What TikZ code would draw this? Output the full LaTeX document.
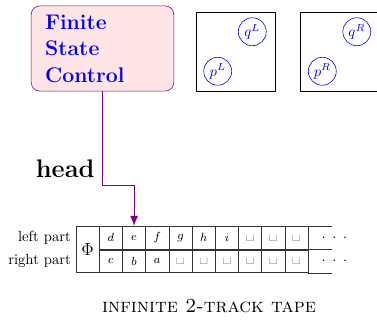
\documentclass[tikz,border=0pt]{standalone}
\usepackage{amsmath}
\usepackage{amssymb}
\usetikzlibrary{arrows.meta, positioning, calc}

\newcommand{\blk}{{\large\textvisiblespace}}
\newcommand{\dotsrow}{$\cdot$\hspace{4.5pt}$\cdot$\hspace{4.5pt}$\cdot$}

\begin{document}
\begin{tikzpicture}[
  x=0.68pt, y=-0.68pt,
  >=Latex,
  ctrl/.style     = {draw=violet, fill=red!10, rounded corners=6pt, text=blue,
                     font=\Large\bfseries, align=left, text width=78pt,
                     minimum width=97pt, minimum height=58pt},
  panel/.style    = {draw, minimum size=53.7pt, inner sep=0pt},
  stnode/.style   = {draw=blue, text=blue, circle, minimum size=19pt, inner sep=0pt},
  cell/.style     = {draw=black!80, minimum width=15.8pt, minimum height=15.6pt,
                     inner sep=0pt, font=\footnotesize},
  part/.style     = {anchor=east, inner sep=3pt},
  headarrow/.style= {draw=violet, thick, -{Latex[length=6.8pt,width=5.4pt]}},
  headlbl/.style  = {left, font=\LARGE\bfseries, text=black, inner sep=5pt},
]
  \clip (0,0) rectangle (377,320);

  \node[ctrl]                      (fsc)  at (102.5,48.5) {Finite\\State\\Control};
  \node[panel]                     (boxL) at (235.5,51.5) {};
  \node[panel, right=17pt of boxL] (boxR) {};

  \node[stnode] (qL) at ($(boxL.north east)+(-23,20)$) {$q^L$};
  \node[stnode] (pL) at ($(boxL.south west)+(22,-20)$) {$p^L$};
  \node[stnode] (qR) at ($(boxR.north east)+(-23,20)$) {$q^R$};
  \node[stnode] (pR) at ($(boxR.south west)+(22,-20)$) {$p^R$};

  % the tape
  \node[cell, minimum height=31.2pt, font=\large] (phi) at (87.5,249) {$\Phi$};
  \foreach \s [count=\i] in {$d$,$e$,$f$,$g$,$h$,$i$,\blk,\blk,\blk}
    \node[cell, anchor=north west] (t\i) at ({99+23.2*(\i-1)},226) {\s};
  \foreach \s [count=\i] in {$c$,$b$,$a$,\blk,\blk,\blk,\blk,\blk,\blk}
    \node[cell, anchor=north west] (b\i) at (t\i.south west) {\s};

  \draw[black!80] (t9.north east) -- ++(24,0);
  \draw[black!80] (t9.south east) -- ++(24,0);
  \draw[black!80] (b9.south east) -- ++(24,0);
  \node (dotsT) at ($(t9.east)+(26,0)$) {\dotsrow};
  \node (dotsB) at ($(b9.east)+(26,0)$) {\dotsrow};

  \node[part] (lpart) at (phi.west |- t1.center) {left part};
  \node[part] (rpart) at (phi.west |- b1.center) {right part};

  \node[font=\fontsize{13.5pt}{16pt}\selectfont] (cap) at (209,306)
    {\textsc{infinite 2-track tape}};

  \coordinate (hbend) at ($(fsc.south)+(0,94)$);
  \draw[headarrow] (fsc.south) -- node[headlbl, pos=0.82] (hlbl) {head} (hbend) -| (t2.north);
\end{tikzpicture}
\end{document}
